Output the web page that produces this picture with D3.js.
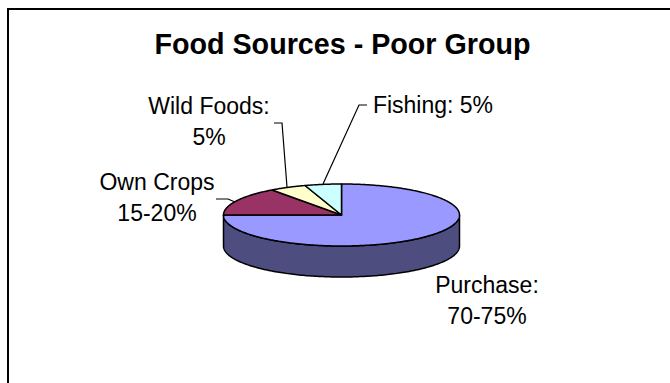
<!DOCTYPE html>
<html>
<head>
<meta charset="utf-8">
<script src="https://cdn.jsdelivr.net/npm/d3@7"></script>
<style>
html, body { margin: 0; padding: 0; background: #fff; }
svg { display: block; }
text { font-family: "Liberation Sans", Arial, sans-serif; fill: #000; }
</style>
</head>
<body>
<svg id="chart" width="670" height="383"></svg>
<script>
// Food source shares for the poor group, clockwise from twelve o'clock.
const categories = ["Purchase", "Own Crops", "Wild Foods", "Fishing"];
const shares = [75, 15, 5, 5];
const topColors = ["#9999ff", "#993366", "#ffffcc", "#ccffff"];
const wallColor = "#4d4d80";
const labelLines = [["Purchase:", "70-75%"], ["Own Crops", "15-20%"], ["Wild Foods:", "5%"], ["Fishing: 5%"]];
const labelAnchors = [[487, 293], [157, 190], [209, 114], [433, 113]];
const title = "Food Sources - Poor Group";

const svg = d3.select("#chart");
const cx = 341.5, cy = 215, rx = 118, ry = 31, depth = 31;

// Chart frame
svg.append("path")
  .attr("d", "M8,383V9H670")
  .attr("fill", "none").attr("stroke", "#000").attr("stroke-width", 2);

svg.append("text")
  .attr("x", 342.5).attr("y", 54)
  .attr("text-anchor", "middle")
  .attr("font-size", 28.7).attr("font-weight", "bold")
  .text(title);

const slices = d3.pie().sort(null).value(d => d)(shares);

// Flattened circle: angle measured clockwise from the top of the ellipse.
const onEllipse = (a, drop = 0) => [cx + rx * Math.sin(a), cy - ry * Math.cos(a) + drop];
const line = d3.line();

// Side wall: the front half of the rim, swept down by the pie's depth.
const front = d3.range(0, 181).map(i => Math.PI / 2 + i * Math.PI / 180);
const wallPts = front.map(a => onEllipse(a)).concat(front.slice().reverse().map(a => onEllipse(a, depth)));
svg.append("path")
  .attr("d", line(wallPts) + "Z")
  .attr("fill", wallColor).attr("stroke", "#000").attr("stroke-width", 1.5);

// Top face of each slice
svg.append("g").selectAll("path")
  .data(slices)
  .join("path")
  .attr("d", s => {
    const n = Math.ceil((s.endAngle - s.startAngle) * 90);
    const arcPts = d3.range(n + 1).map(i => onEllipse(s.startAngle + (s.endAngle - s.startAngle) * i / n));
    return line([[cx, cy], ...arcPts]) + "Z";
  })
  .attr("fill", (s, i) => topColors[i])
  .attr("stroke", "#000").attr("stroke-width", 1.5).attr("stroke-linejoin", "round");

// Leader lines from the labels to their slices
const leaders = [
  [[216, 199], [228, 199], [235, 202]],
  [[274, 123], [282, 123], [287, 187]],
  [[367, 105], [359, 105], [323, 184]]
];
svg.append("g").selectAll("path")
  .data(leaders)
  .join("path")
  .attr("d", line)
  .attr("fill", "none").attr("stroke", "#000").attr("stroke-width", 1.2);

// Category labels
const labels = svg.append("g").selectAll("text")
  .data(labelLines)
  .join("text")
  .attr("font-size", 23)
  .attr("text-anchor", "middle")
  .attr("data-category", (d, i) => categories[i]);
labels.selectAll("tspan")
  .data((d, i) => d.map((t, j) => ({ t, j, i })))
  .join("tspan")
  .attr("x", d => labelAnchors[d.i][0])
  .attr("y", d => labelAnchors[d.i][1] + d.j * 31)
  .text(d => d.t);
</script>
</body>
</html>
